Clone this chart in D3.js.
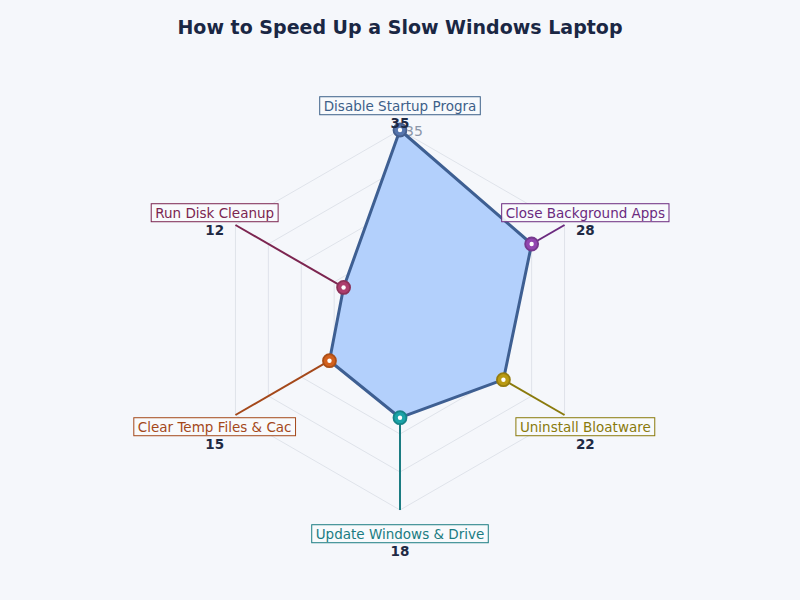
<!DOCTYPE html>
<html>
<head>
<meta charset="utf-8">
<script src="https://cdn.jsdelivr.net/npm/d3@7"></script>
<style>
  body { margin: 0; background: #f5f7fb; }
  svg { font-family: "DejaVu Sans", sans-serif; }
</style>
</head>
<body>
<div id="chart"></div>
<script>
// chart data
const categories = ["Disable Startup Programs", "Close Background Apps", "Uninstall Bloatware",
                    "Update Windows & Drivers", "Clear Temp Files & Cache", "Run Disk Cleanup"];
const values = [35, 28, 22, 18, 15, 12];
const ticks = [7, 14, 21, 28, 35];
const pointColors = ["#5675ad", "#9246b0", "#b99a12", "#1aa3a8", "#d2601d", "#ad3d6d"];
const labelColors = ["#3d6089", "#6b2a7f", "#8a7a0c", "#1b7c82", "#a4481a", "#7c2550"];

const width = 800, height = 600;
const cx = 400, cy = 320, radius = 190;

const svg = d3.select("#chart").append("svg")
  .attr("width", width)
  .attr("height", height);

svg.append("rect")
  .attr("width", width).attr("height", height)
  .attr("fill", "#f5f7fb");

svg.append("text")
  .attr("x", width / 2).attr("y", 34)
  .attr("text-anchor", "middle")
  .attr("font-size", "19px")
  .attr("font-weight", "bold")
  .attr("fill", "#1a2744")
  .text("How to Speed Up a Slow Windows Laptop");

const r = d3.scaleLinear().domain([0, 35]).range([0, radius]);
const angle = d3.scaleLinear().domain([0, categories.length]).range([0, 2 * Math.PI]);

// x,y for index + value
const px = (i, v) => Math.sin(angle(i)) * r(v);
const py = (i, v) => -Math.cos(angle(i)) * r(v);

const g = svg.append("g").attr("transform", `translate(${cx},${cy})`);

// grid rings
const ringLine = d3.lineRadial().curve(d3.curveLinearClosed);
g.selectAll("path.ring")
  .data(ticks)
  .join("path")
    .attr("class", "ring")
    .attr("fill", "none")
    .attr("stroke", "#dfe3ea")
    .attr("stroke-width", 1)
    .attr("d", t => ringLine(categories.map((c, i) => [angle(i), r(t)])));

// tick labels (mostly hidden under the area)
g.selectAll("text.tick")
  .data(ticks)
  .join("text")
    .attr("class", "tick")
    .attr("x", 5)
    .attr("y", t => -r(t))
    .attr("dy", "0.45em")
    .attr("font-size", "14px")
    .attr("fill", "#8b96a8")
    .text(t => t);

// leader lines from point to outer ring
g.selectAll("line.leader")
  .data(values)
  .join("line")
    .attr("class", "leader")
    .attr("x1", (v, i) => px(i, v))
    .attr("y1", (v, i) => py(i, v))
    .attr("x2", (v, i) => px(i, 35))
    .attr("y2", (v, i) => py(i, 35))
    .attr("stroke", (v, i) => labelColors[i])
    .attr("stroke-width", 2);

// area
const area = d3.lineRadial()
  .angle((v, i) => angle(i))
  .radius(v => r(v))
  .curve(d3.curveLinearClosed);

g.append("path")
  .datum(values)
  .attr("d", area)
  .attr("fill", "#b3d0fc")
  .attr("stroke", "#3e5f92")
  .attr("stroke-width", 3)
  .attr("stroke-linejoin", "round");

// points
const pts = g.selectAll("g.pt")
  .data(values)
  .join("g")
    .attr("class", "pt")
    .attr("transform", (v, i) => `translate(${px(i, v)},${py(i, v)})`);
pts.append("circle")
  .attr("r", 6.5)
  .attr("fill", (v, i) => pointColors[i])
  .attr("stroke", (v, i) => d3.color(pointColors[i]).darker(0.6))
  .attr("stroke-width", 1.8);
pts.append("circle")
  .attr("r", 2.2)
  .attr("fill", "#fff");

// category labels with boxes
const lab = g.selectAll("g.lab")
  .data(categories)
  .join("g")
    .attr("class", "lab")
    .attr("transform", (c, i) => `translate(${px(i, 35 + 24 * 35 / radius)},${py(i, 35 + 24 * 35 / radius)})`);

lab.append("text")
  .attr("class", "name")
  .attr("text-anchor", "middle")
  .attr("dy", "0.35em")
  .attr("font-size", "13.5px")
  .attr("fill", (c, i) => labelColors[i])
  .text(c => c.slice(0, 22));

lab.each(function() {
  const t = d3.select(this).select("text.name");
  const b = t.node().getBBox();
  d3.select(this).insert("rect", "text")
    .attr("x", b.x - 4)
    .attr("y", b.y - 1)
    .attr("width", b.width + 8)
    .attr("height", b.height + 2)
    .attr("fill", "#f8f9fc")
    .attr("fill-opacity", 0.9)
    .attr("stroke", t.attr("fill"))
    .attr("stroke-width", 1);
});

lab.append("text")
  .attr("text-anchor", "middle")
  .attr("y", 17.5)
  .attr("dy", "0.35em")
  .attr("font-size", "13.5px")
  .attr("font-weight", "bold")
  .attr("fill", "#1f2a44")
  .text((c, i) => values[i]);
</script>
</body>
</html>
